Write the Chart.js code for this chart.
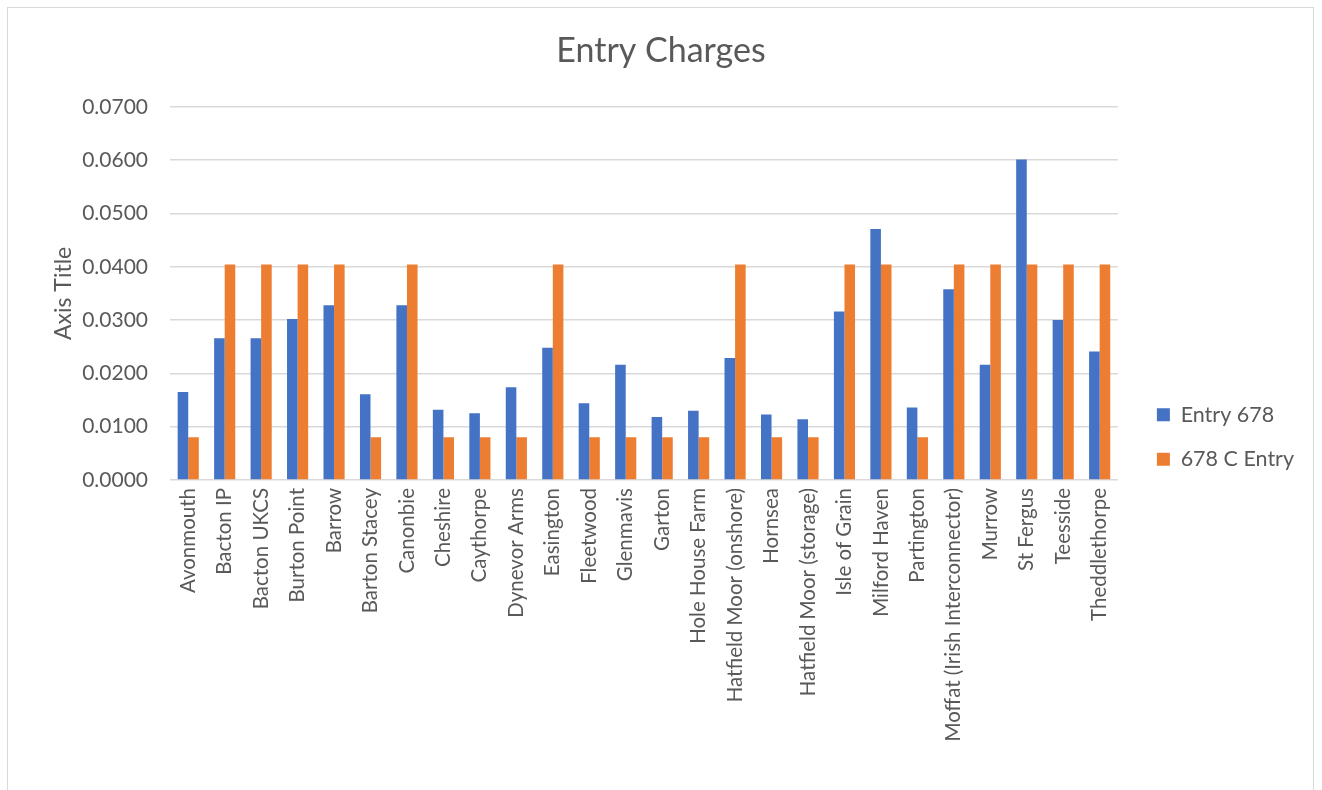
<!DOCTYPE html>
<html>
<head>
<meta charset="utf-8">
<script src="https://cdn.jsdelivr.net/npm/chart.js@4"></script>
<style>
  html, body { margin: 0; padding: 0; background: #ffffff; }
  #wrap { position: relative; width: 1322px; height: 790px; overflow: hidden; }
  #frame { position: absolute; left: 7px; top: 7px; width: 1307px; height: 800px; border: 1px solid #d9d9d9; box-sizing: border-box; pointer-events: none; }
  canvas { position: absolute; left: 0; top: 0; }
</style>
</head>
<body>
<div id="wrap">
  <canvas id="c" width="1322" height="790"></canvas>
  <div id="frame"></div>
</div>
<script>
const categories = ["Avonmouth", "Bacton IP", "Bacton UKCS", "Burton Point", "Barrow", "Barton Stacey", "Canonbie", "Cheshire", "Caythorpe", "Dynevor Arms", "Easington", "Fleetwood", "Glenmavis", "Garton", "Hole House Farm", "Hatfield Moor (onshore)", "Hornsea", "Hatfield Moor (storage)", "Isle of Grain", "Milford Haven", "Partington", "Moffat (Irish Interconnector)", "Murrow", "St Fergus", "Teesside", "Theddlethorpe"];
const entry678 = [0.0165, 0.0266, 0.0266, 0.0302, 0.0328, 0.0161, 0.0328, 0.0132, 0.0125, 0.0174, 0.0248, 0.0144, 0.0216, 0.0118, 0.0130, 0.0229, 0.0123, 0.0114, 0.0316, 0.0471, 0.0136, 0.0358, 0.0216, 0.0601, 0.0300, 0.0241];
const entry678C = [0.0080, 0.0404, 0.0404, 0.0404, 0.0404, 0.0080, 0.0404, 0.0080, 0.0080, 0.0080, 0.0404, 0.0080, 0.0080, 0.0080, 0.0080, 0.0404, 0.0080, 0.0080, 0.0404, 0.0404, 0.0080, 0.0404, 0.0404, 0.0404, 0.0404, 0.0404];
const seriesNames = ["Entry 678", "678 C Entry"];
const chartTitle = "Entry Charges";
const yAxisTitle = "Axis Title";

const FONT = "Lato, 'Open Sans', sans-serif";
const GREY = "#595959";

// Adjust legend box width / drawing offset and title offset, to mimic the spreadsheet layout.
const layoutTweak = {
  id: "layoutTweak",
  beforeUpdate(chart) {
    const lg = chart.legend;
    if (lg && !lg._tweaked) {
      lg._tweaked = true;
      const fit = lg.fit.bind(lg);
      lg.fit = function () { fit(); this.width += 4; };
      const draw = lg.draw.bind(lg);
      lg.draw = function () {
        const ctx = chart.ctx;
        ctx.save();
        ctx.translate(16, 26.5);
        draw();
        ctx.restore();
      };
    }
    const tb = chart.titleBlock;
    if (tb && !tb._tweaked) {
      tb._tweaked = true;
      const tdraw = tb.draw.bind(tb);
      tb.draw = function () {
        const ctx = chart.ctx;
        ctx.save();
        ctx.translate(-10, 0);
        tdraw();
        ctx.restore();
      };
    }
  }
};

new Chart(document.getElementById("c"), {
  type: "bar",
  data: {
    labels: categories,
    datasets: [
      { label: seriesNames[0], data: entry678, backgroundColor: "#4472C4", borderWidth: 0 },
      { label: seriesNames[1], data: entry678C, backgroundColor: "#ED7D31", borderWidth: 0 }
    ]
  },
  plugins: [layoutTweak],
  options: {
    responsive: false,
    animation: false,
    devicePixelRatio: 1,
    layout: { padding: { left: 50, right: 30, top: 31, bottom: 0 } },
    datasets: { bar: { barPercentage: 1.0, categoryPercentage: 0.58 } },
    plugins: {
      title: {
        display: true, text: chartTitle, color: GREY,
        font: { family: FONT, size: 34, weight: "normal" },
        padding: { top: 0, bottom: 35 }
      },
      legend: {
        position: "right", align: "center",
        labels: {
          color: GREY, font: { family: FONT, size: 21.5 },
          boxWidth: 13, boxHeight: 13, padding: 23
        }
      },
      tooltip: { enabled: false }
    },
    scales: {
      x: {
        grid: { display: false, drawTicks: false },
        border: { display: false },
        ticks: {
          color: GREY, font: { family: FONT, size: 20.5 },
          minRotation: 90, maxRotation: 90, autoSkip: false, padding: 8
        },
        afterFit: (s) => { s.height = 790 - 480; }
      },
      y: {
        min: 0, max: 0.07,
        grid: { color: "#d9d9d9", lineWidth: 1.5, drawTicks: false },
        border: { display: false },
        ticks: {
          stepSize: 0.01, color: GREY, font: { family: FONT, size: 21 }, padding: 22,
          callback: (v) => Number(v).toFixed(4)
        },
        title: {
          display: true, text: yAxisTitle, color: GREY,
          font: { family: FONT, size: 23 }, padding: { top: 0, bottom: 6 }
        },
        afterFit: (s) => { s.width = 170 - 50; }
      }
    }
  }
});
</script>
</body>
</html>
